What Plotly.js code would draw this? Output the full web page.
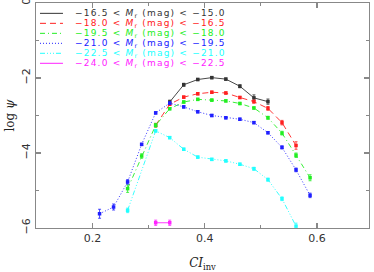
<!DOCTYPE html>
<html><head><meta charset="utf-8">
<script src="https://cdn.plot.ly/plotly-3.0.1.min.js"></script>
<style>html,body{margin:0;padding:0;background:#fff}#c{width:374px;height:272px}
.annotation-text{letter-spacing:1.2px}</style>
</head><body><div id="c"></div>
<script>
// Data
const seriesNames = [
  "\u221216.5 < <i>M</i><sub>r</sub> (mag) < \u221215.0",
  "\u221218.0 < <i>M</i><sub>r</sub> (mag) < \u221216.5",
  "\u221219.5 < <i>M</i><sub>r</sub> (mag) < \u221218.0",
  "\u221221.0 < <i>M</i><sub>r</sub> (mag) < \u221219.5",
  "\u221222.5 < <i>M</i><sub>r</sub> (mag) < \u221221.0",
  "\u221224.0 < <i>M</i><sub>r</sub> (mag) < \u221222.5"
];
const x1 = [0.3375,0.3625,0.3875,0.4125,0.4375,0.4625,0.4875,0.5125];
const y1 = [-2.64,-2.18,-2.04,-1.99,-2.03,-2.22,-2.53,-2.63];
const e1 = [0.05,0.04,0.03,0.03,0.03,0.04,0.08,0.07];
const x2 = [0.3125,0.3375,0.3625,0.3875,0.4125,0.4375,0.4625,0.4875,0.5125,0.5375,0.5625];
const y2 = [-3.26,-2.70,-2.51,-2.42,-2.38,-2.40,-2.52,-2.63,-2.81,-3.19,-3.80];
const e2 = [0.05,0.03,0.03,0.03,0.03,0.03,0.03,0.04,0.05,0.06,0.10];
const x3 = [0.2625,0.2875,0.3125,0.3375,0.3625,0.3875,0.4125,0.4375,0.4625,0.4875,0.5125,0.5375,0.5625,0.5875];
const y3 = [-4.95,-4.08,-3.26,-2.82,-2.64,-2.57,-2.59,-2.61,-2.68,-2.80,-3.06,-3.47,-4.06,-4.66];
const e3 = [0.10,0.06,0.05,0.03,0.03,0.03,0.03,0.03,0.03,0.03,0.04,0.05,0.06,0.08];
const x4 = [0.2125,0.2375,0.2625,0.2875,0.3125,0.3375,0.3625,0.3875,0.4125,0.4375,0.4625,0.4875,0.5125,0.5375,0.5625,0.5875];
const y4 = [-5.62,-5.44,-4.77,-3.77,-2.93,-2.67,-2.77,-2.90,-3.00,-3.06,-3.10,-3.19,-3.46,-3.85,-4.45,-5.13];
const e4 = [0.12,0.08,0.06,0.03,0.03,0.03,0.03,0.03,0.03,0.03,0.03,0.03,0.03,0.04,0.05,0.06];
const x5 = [0.2625,0.3125,0.3375,0.3625,0.3875,0.4125,0.4375,0.4625,0.4875,0.5125,0.5375,0.5625];
const y5 = [-5.53,-3.41,-3.59,-3.90,-4.11,-4.17,-4.21,-4.30,-4.42,-4.71,-5.22,-5.95];
const e5 = [0.06,0.03,0.03,0.03,0.03,0.03,0.03,0.03,0.04,0.04,0.05,0.08];
const x6 = [0.3125,0.3375];
const y6 = [-5.86,-5.86];
const e6 = [0.07,0.07];
const colors = ["#333333","#ff2020","#22ee22","#2020ff","#22ffff","#ff22ff"];
const dashes = ["solid","6px,4px","5px,3px,1px,3px","1px,2px","5px,2px,1px,2px,1px,2px,1px,2px","solid"];
const xTickVals = [0.2,0.4,0.6];
const xTickText = ["0.2","0.4","0.6"];
const yTickVals = [0,-2,-4,-6];
const yTickText = ["0","\u22122","\u22124","\u22126"];

const xs=[x1,x2,x3,x4,x5,x6], ys=[y1,y2,y3,y4,y5,y6], es=[e1,e2,e3,e4,e5,e6];
const traces = xs.map((xx,i)=>({
  x: xx, y: ys[i], type:'scatter', mode:'lines+markers', showlegend:false,
  line:{color:colors[i], width:0.9, dash:dashes[i]},
  marker:{color:colors[i], size:3.5, symbol:'square'},
  error_y:{type:'data', array:es[i], visible:true, color:colors[i], thickness:0.8, width:1.5}
}));

const shapes = [], annotations = [];
const rowTop = 0.954, rowGap = 0.0444;
seriesNames.forEach((n,i)=>{
  const yy = rowTop - i*rowGap;
  shapes.push({type:'line', xref:'paper', yref:'paper', x0:0.012, x1:0.081, y0:yy, y1:yy,
    line:{color:colors[i], width:1, dash:dashes[i]}});
  annotations.push({xref:'paper', yref:'paper', x:0.11, y:yy, xanchor:'left', yanchor:'middle',
    text:n, showarrow:false, font:{family:'DejaVu Sans', size:9, color:colors[i]}});
});

const layout = {
  width:374, height:272, paper_bgcolor:'#fff', plot_bgcolor:'#fff',
  margin:{l:36, r:5, t:3, b:44},
  showlegend:false,
  font:{family:'DejaVu Sans', size:11, color:'#222'},
  xaxis:{range:[0.0993,0.6925], showgrid:false, zeroline:false, showline:true, linecolor:'#888', linewidth:1.2,
    mirror:'allticks', ticks:'inside', ticklen:5, tickcolor:'#888', tickwidth:1.2,
    tickvals:xTickVals, ticktext:xTickText, tickfont:{family:'DejaVu Sans', size:11, color:'#333'},
    minor:{tickvals:[0.3,0.5], ticks:'inside', ticklen:3, tickcolor:'#888', tickwidth:1},
    title:{text:'<i>CI</i><sub>inv</sub>', font:{family:'DejaVu Serif', size:12, color:'#222'}, standoff:14}},
  yaxis:{range:[-6,0], showgrid:false, zeroline:false, showline:true, linecolor:'#888', linewidth:1.2,
    mirror:'allticks', ticks:'inside', ticklen:5, tickcolor:'#888', tickwidth:1.2, ticklabeloverflow:'allow',
    tickvals:yTickVals, ticktext:yTickText, tickangle:-90, tickfont:{family:'DejaVu Sans', size:11, color:'#333'},
    minor:{tickvals:[-1,-3,-5], ticks:'inside', ticklen:3, tickcolor:'#888', tickwidth:1},
    title:{text:'log <i>\u03c8</i>', font:{family:'DejaVu Serif', size:12, color:'#222'}, standoff:3}},
  shapes:shapes, annotations:annotations
};
Plotly.newPlot('c', traces, layout, {staticPlot:true, displayModeBar:false});
</script></body></html>
